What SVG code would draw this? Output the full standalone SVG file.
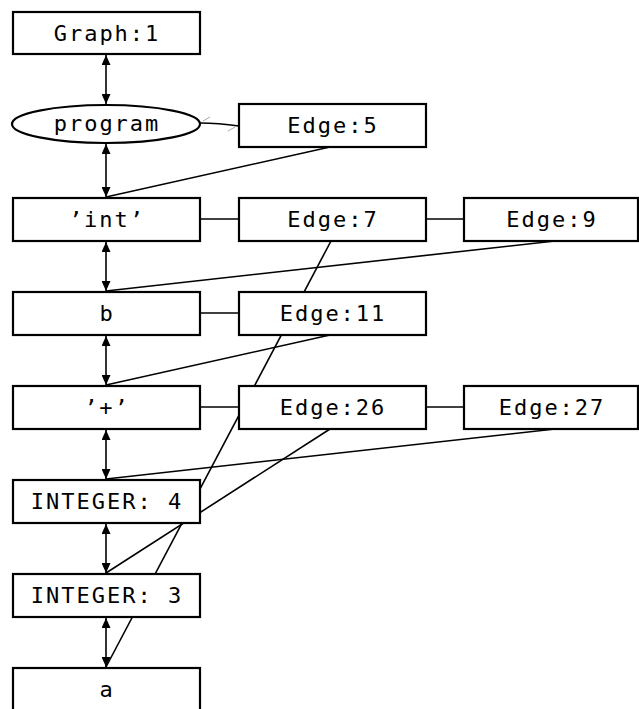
<svg xmlns="http://www.w3.org/2000/svg" width="639" height="709" viewBox="0 0 639 709">
<style>
.box{fill:#fff;stroke:#000;stroke-width:2.2}
.lbl{font-family:"DejaVu Sans Mono","Liberation Mono",monospace;font-size:22px;letter-spacing:2px;fill:#000;text-anchor:middle}
.ln{fill:none;stroke:#000;stroke-width:1.6}
.tick{stroke:#aaa;stroke-width:1}
</style>
<defs>
<marker id="ah" markerUnits="userSpaceOnUse" markerWidth="10" markerHeight="9" refX="10" refY="4.5" orient="auto-start-reverse">
<path d="M0,0 L10,4.5 L0,9 z" fill="#000"/>
</marker>
</defs>
<rect width="639" height="709" fill="#fff"/>
<g id="connectors">
<line class="ln" x1="106" y1="55" x2="106" y2="104" marker-start="url(#ah)" marker-end="url(#ah)"/>
<line class="ln" x1="106" y1="144" x2="106" y2="197" marker-start="url(#ah)" marker-end="url(#ah)"/>
<line class="ln" x1="106" y1="242" x2="106" y2="291" marker-start="url(#ah)" marker-end="url(#ah)"/>
<line class="ln" x1="106" y1="336" x2="106" y2="385" marker-start="url(#ah)" marker-end="url(#ah)"/>
<line class="ln" x1="106" y1="430" x2="106" y2="479" marker-start="url(#ah)" marker-end="url(#ah)"/>
<line class="ln" x1="106" y1="524" x2="106" y2="573" marker-start="url(#ah)" marker-end="url(#ah)"/>
<line class="ln" x1="106" y1="618" x2="106" y2="667" marker-start="url(#ah)" marker-end="url(#ah)"/>
<path class="ln" d="M200,123 C215,123 225,124 239,126"/>
<line class="tick" x1="203" y1="121" x2="210" y2="117"/>
<line class="tick" x1="228" y1="131" x2="235" y2="127"/>
<line class="ln" x1="330" y1="147" x2="106" y2="197"/>
<line class="ln" x1="200" y1="219" x2="239" y2="219"/>
<line class="ln" x1="426" y1="219" x2="464" y2="219"/>
<line class="ln" x1="555" y1="241" x2="106" y2="291"/>
<line class="ln" x1="331" y1="241" x2="106" y2="667"/>
<line class="ln" x1="200" y1="313" x2="239" y2="313"/>
<line class="ln" x1="330" y1="335" x2="106" y2="385"/>
<line class="ln" x1="200" y1="407" x2="239" y2="407"/>
<line class="ln" x1="426" y1="407" x2="464" y2="407"/>
<line class="ln" x1="555" y1="429" x2="106" y2="479"/>
<line class="ln" x1="330" y1="429" x2="106" y2="573"/>
</g>
<g id="graph1"><rect class="box" x="13" y="12" width="187" height="42"/><text class="lbl" x="107" y="41">Graph:1</text></g>
<g id="program"><ellipse class="box" cx="106" cy="124" rx="94" ry="19"/><text class="lbl" x="107" y="131">program</text></g>
<g id="edge5"><rect class="box" x="239" y="104" width="187" height="43"/><text class="lbl" x="333" y="133">Edge:5</text></g>
<g id="int"><rect class="box" x="13" y="198" width="187" height="43"/><text class="lbl" x="107" y="227">’int’</text></g>
<g id="edge7"><rect class="box" x="239" y="198" width="187" height="43"/><text class="lbl" x="333" y="227">Edge:7</text></g>
<g id="edge9"><rect class="box" x="464" y="198" width="174" height="43"/><text class="lbl" x="552" y="227">Edge:9</text></g>
<g id="b"><rect class="box" x="13" y="292" width="187" height="43"/><text class="lbl" x="107" y="321">b</text></g>
<g id="edge11"><rect class="box" x="239" y="292" width="187" height="43"/><text class="lbl" x="333" y="321">Edge:11</text></g>
<g id="plus"><rect class="box" x="13" y="386" width="187" height="43"/><text class="lbl" x="107" y="415">’+’</text></g>
<g id="edge26"><rect class="box" x="239" y="386" width="187" height="43"/><text class="lbl" x="333" y="415">Edge:26</text></g>
<g id="edge27"><rect class="box" x="464" y="386" width="174" height="43"/><text class="lbl" x="552" y="415">Edge:27</text></g>
<g id="integer4"><rect class="box" x="13" y="480" width="187" height="43"/><text class="lbl" x="107" y="509">INTEGER: 4</text></g>
<g id="integer3"><rect class="box" x="13" y="574" width="187" height="43"/><text class="lbl" x="107" y="603">INTEGER: 3</text></g>
<g id="a"><rect class="box" x="13" y="668" width="187" height="43"/><text class="lbl" x="107" y="697">a</text></g>
</svg>
